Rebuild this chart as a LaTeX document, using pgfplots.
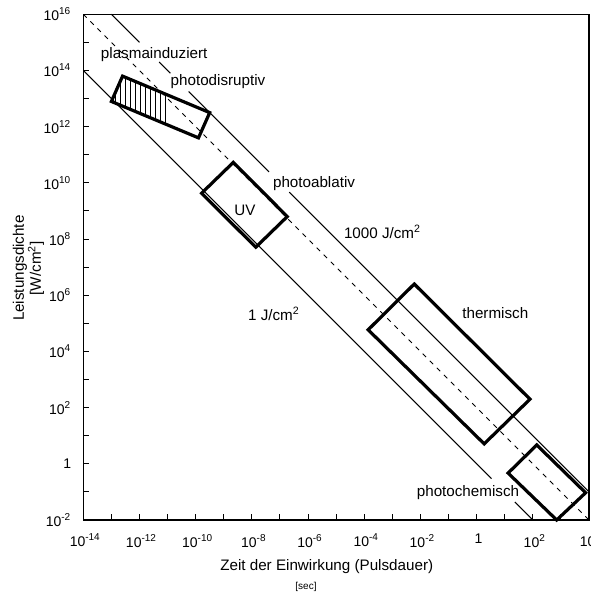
\documentclass[border=0pt]{standalone}
\usepackage{fontspec}
\setmainfont{Liberation Sans}
\usepackage{pgfplots}
\pgfplotsset{compat=1.18}
\usetikzlibrary{patterns.meta}

\newcommand{\lbl}{\fontsize{7.6}{9}\selectfont}
\newcommand{\sq}{\textsuperscript{2}}

\begin{document}
\begin{tikzpicture}
\begin{axis}[
  name=ax,
  scale only axis, width=252.85pt, height=252.85pt,
  xmode=log, ymode=log,
  xmin=1e-14, xmax=1e4, ymin=1e-2, ymax=1e16,
  xtick={1e-14,1e-13,1e-12,1e-11,1e-10,1e-9,1e-8,1e-7,1e-6,1e-5,1e-4,1e-3,1e-2,1e-1,1,1e1,1e2,1e3,1e4},
  xticklabels={10\textsuperscript{-14},,10\textsuperscript{-12},,10\textsuperscript{-10},,10\textsuperscript{-8},,10\textsuperscript{-6},,10\textsuperscript{-4},,10\textsuperscript{-2},,1,,10\textsuperscript{2},,10\textsuperscript{4}},
  ytick={1e-2,1e-1,1,1e1,1e2,1e3,1e4,1e5,1e6,1e7,1e8,1e9,1e10,1e11,1e12,1e13,1e14,1e15,1e16},
  yticklabels={10\textsuperscript{-2},,1,,10\textsuperscript{2},,10\textsuperscript{4},,10\textsuperscript{6},,10\textsuperscript{8},,10\textsuperscript{10},,10\textsuperscript{12},,10\textsuperscript{14},,10\textsuperscript{16}},
  xminorticks=false, yminorticks=false,
  tick pos=left, tick align=inside, major tick length=3pt,
  tick style={black, line width=0.5pt},
  axis line style={line width=0.6pt},
  ticklabel style={font=\fontsize{7}{8}\selectfont},
  xticklabel style={yshift=-3.5pt, xshift=1pt},
  yticklabel style={xshift=-2.5pt},
  clip=false,
]
% constant fluence lines
\addplot[black, line width=0.5pt] coordinates {(1e-14,1e14) (3.39,0.295)};
\addplot[black, line width=0.5pt] coordinates {(22.9,0.0437) (100,0.01)};
\addplot[black, line width=0.4pt, dash pattern=on 2.4pt off 2.6pt] coordinates {(1e-14,1e16) (1e4,1e-2)};
\addplot[black, line width=0.5pt] coordinates {(1e-13,1e16) (1e-12,1e15)};
\addplot[black, line width=0.5pt] coordinates {(5.01e-12,2.0e14) (1.26e-11,7.94e13)};
\addplot[black, line width=0.5pt] coordinates {(5.62e-11,1.78e13) (4.07e-8,2.45e10)};
\addplot[black, line width=0.5pt] coordinates {(2.14e-7,4.68e9) (1e4,1e-1)};

% plasma-induced part (hatched)
\addplot[draw=none, pattern={Lines[angle=90,distance=2.5pt,line width=0.4pt]}]
  coordinates {(2.5e-13,6.3e13) (1e-13,7.9e12) (1e-11,1.17e12) (1e-11,1.29e13)} -- cycle;

% interaction regions
\addplot[black, line width=1.6pt, line join=miter]
  coordinates {(2.5e-13,6.3e13) (1e-13,7.9e12) (1.26e-10,4.0e11) (3.16e-10,3.16e12)} -- cycle;
\addplot[black, line width=1.6pt, line join=miter]
  coordinates {(2.19e-9,5.37e10) (1.62e-10,4.27e9) (1.38e-8,5.13e7) (1.82e-7,6.31e8)} -- cycle;
\addplot[black, line width=1.6pt, line join=miter]
  coordinates {(6.03e-3,2.51e6) (1.38e-4,5.89e4) (1.86,5.13) (79.4,199.5)} -- cycle;
\addplot[black, line width=1.6pt, line join=miter]
  coordinates {(138,4.68) (13.2,0.468) (708,0.01) (7586,0.0933)} -- cycle;

% labels
\node[font=\lbl] at (rel axis cs:0.1402,0.9195) {plasmainduziert};
\node[font=\lbl] at (rel axis cs:0.2664,0.8667) {photodisruptiv};
\node[font=\lbl] at (rel axis cs:0.4563,0.6658) {photoablativ};
\node[font=\lbl] at (rel axis cs:0.3198,0.6117) {UV};
\node[font=\lbl] at (rel axis cs:0.5917,0.5695) {1000 J/cm\sq};
\node[font=\lbl] at (rel axis cs:0.3771,0.4074) {1 J/cm\sq};
\node[font=\lbl] at (rel axis cs:0.8147,0.4086) {thermisch};
\node[font=\lbl] at (rel axis cs:0.7607,0.054) {photochemisch};

% axis titles
\node[font=\lbl] at (rel axis cs:0.4814,-0.093) {Zeit der Einwirkung (Pulsdauer)};
\node[font=\fontsize{5}{6}\selectfont] at (rel axis cs:0.4404,-0.1325) {[sec]};
\node[font=\lbl, rotate=90, align=center] at (rel axis cs:-0.1084,0.498)
  {Leistungsdichte\\[-0.5pt][W/cm\sq]};
\end{axis}
\pgfresetboundingbox
\path ([xshift=-41.65pt,yshift=-37pt]ax.south west) rectangle ([xshift=1pt,yshift=7.15pt]ax.north east);
\end{tikzpicture}
\end{document}
